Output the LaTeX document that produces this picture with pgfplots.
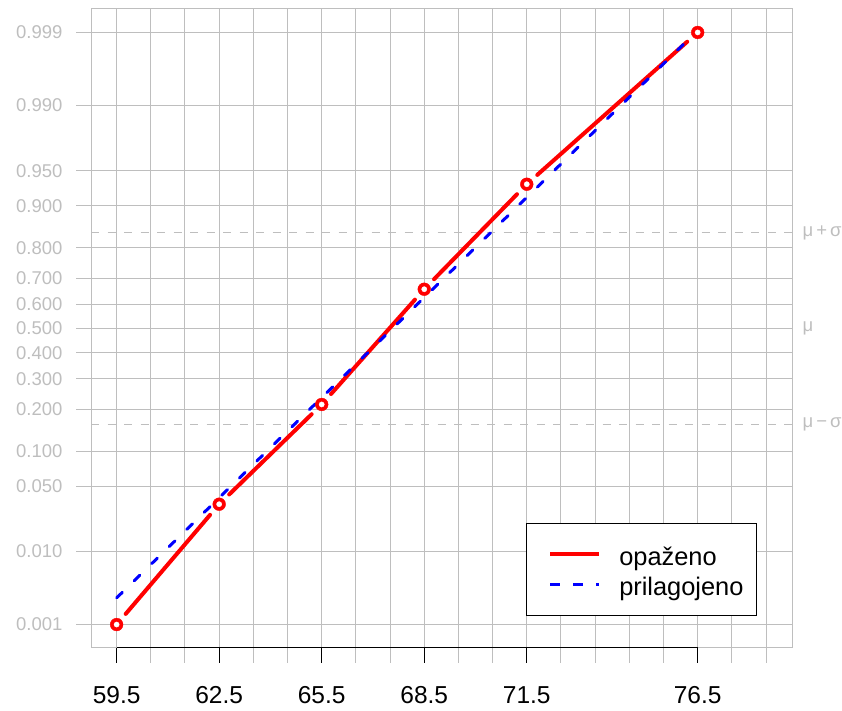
\documentclass[border=0pt]{standalone}
\usepackage{fontspec}
\setmainfont{Liberation Sans}
\usepackage{pgfplots}
\usepackage{pgfplotstable}
\pgfplotsset{compat=1.18}
\definecolor{rgrey}{HTML}{BEBEBE}
\definecolor{rred}{HTML}{FF0000}
\definecolor{rblue}{HTML}{0000FF}

% observed cumulative proportions, as normal quantiles (probit scale)
\pgfplotstableread{
x z
59.5 -3.0902
62.5 -1.834
65.5 -0.793
68.5 0.410
71.5 1.506
76.5 3.0902
}\observed

% fitted normal line
\pgfplotstableread{
x z
59.5 -2.812
76.5 3.111
}\fitted

\pgfplotsset{
  seg/.style={rred, line width=4pt, line cap=round, shorten <=14pt, shorten >=14pt, forget plot},
  fitdash/.style={rblue, line width=3pt, line cap=round, dash pattern=on 8pt off 16.5pt},
}

\begin{document}
\begin{tikzpicture}[x=1pt,y=1pt]
\path[use as bounding box] (0,0) rectangle (842,711);
\begin{axis}[
  at={(91pt,63pt)}, anchor=south west,
  scale only axis, width=701pt, height=639pt,
  xmin=58.75, xmax=79.26, ymin=-3.335, ymax=3.335,
  clip=false,
  axis line style={rgrey, line width=1pt},
  tick style={rgrey, line width=1pt},
  tick align=outside, major tick length=15pt,
  xtick pos=bottom, ytick pos=left,
  xtick={59.5,60.5,...,78.5}, xticklabels={},
  ytick={-3.0902,-2.3263,-1.6449,-1.2816,-0.8416,-0.5244,-0.2533,0,0.2533,0.5244,0.8416,1.2816,1.6449,2.3263,3.0902},
  yticklabels={0.001,0.010,0.050,0.100,0.200,0.300,0.400,0.500,0.600,0.700,0.800,0.900,0.950,0.990,0.999},
  tick label style={font=\fontsize{18.5}{20}\selectfont},
  y tick label style={rgrey, font=\fontsize{18.5}{20}\selectfont, xshift=-10pt},
  grid=major, grid style={rgrey, line width=1pt},
  extra x ticks={59.5,62.5,65.5,68.5,71.5,76.5},
  extra x tick labels={59.5,62.5,65.5,68.5,71.5,76.5},
  extra x tick style={grid=none, tick style={black, line width=1pt},
    xticklabel style={black, font=\fontsize{24.5}{26}\selectfont, yshift=-20pt}},
  legend style={at={(0.9501,0.0501)}, anchor=south east, draw=black, line width=1pt,
    fill=white, inner xsep=11pt, inner ysep=17pt, row sep=2pt, column sep=16pt,
    font=\fontsize{25.4}{28}\selectfont,
    nodes={inner sep=2pt, text height=23pt, text depth=1pt}},
  legend cell align=left,
  legend image code/.code={\path (0pt,0pt); \draw[#1] (11pt,0pt) -- (60pt,0pt);},
]
\addlegendimage{rred, line width=4pt}
\addlegendentry{opaženo}
\addlegendimage{rblue, line width=3pt, dash pattern=on 9.5pt off 13.5pt}
\addlegendentry{prilagojeno}

% mu +/- sigma reference lines
\addplot[rgrey, line width=1pt, dash pattern=on 8pt off 8.5pt, forget plot] coordinates {(58.75,1) (79.26,1)};
\addplot[rgrey, line width=1pt, dash pattern=on 8pt off 8.5pt, forget plot] coordinates {(58.75,-1) (79.26,-1)};

% observed segments (gaps at the points)
\addplot[seg] coordinates {(59.5,-3.0902) (62.5,-1.834)};
\addplot[seg] coordinates {(62.5,-1.834) (65.5,-0.793)};
\addplot[seg] coordinates {(65.5,-0.793) (68.5,0.410)};
\addplot[seg] coordinates {(68.5,0.410) (71.5,1.506)};
\addplot[seg] coordinates {(71.5,1.506) (76.5,3.0902)};

\addplot[fitdash, forget plot] table[x=x,y=z] {\fitted};

% open circles: red disc with a white centre
\addplot[rred, only marks, mark=*, mark size=6.4pt, mark options={draw=rred, fill=rred, line width=0.4pt}, forget plot] table[x=x,y=z] {\observed};
\addplot[white, only marks, mark=*, mark size=2.6pt, mark options={draw=white, fill=white, line width=0.4pt}, forget plot] table[x=x,y=z] {\observed};

\draw[black, line width=1pt] (axis cs:59.5,-3.335) -- (axis cs:76.5,-3.335);

\node[anchor=west, rgrey, font=\fontsize{18.5}{20}\selectfont, xshift=7pt] at (axis cs:79.26,1) {μ\,+\,σ};
\node[anchor=west, rgrey, font=\fontsize{18.5}{20}\selectfont, xshift=7pt] at (axis cs:79.26,0) {μ};
\node[anchor=west, rgrey, font=\fontsize{18.5}{20}\selectfont, xshift=7pt] at (axis cs:79.26,-1) {μ\,−\,σ};
\end{axis}
\end{tikzpicture}
\end{document}
